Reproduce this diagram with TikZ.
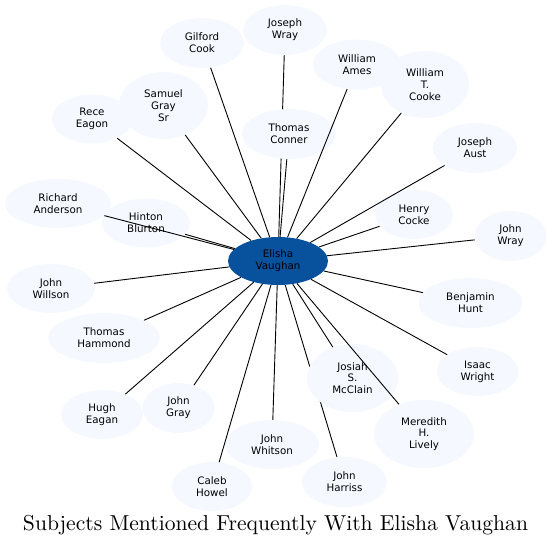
\documentclass[tikz,border=0pt]{standalone}
\usepackage{fontspec}
\newfontfamily\nodefont{DejaVu Sans}
\newfontfamily\titlefont{lmroman10-regular}[Extension=.otf]
\usetikzlibrary{shapes.geometric,backgrounds}
\definecolor{leaf}{HTML}{F5F9FF}
\definecolor{hub}{HTML}{08519C}
\tikzset{
  person/.style={ellipse, fill=leaf, draw=none, inner sep=0pt, align=center,
    font=\nodefont\fontsize{10.3}{11.7}\selectfont, text=black},
  hubnode/.style={person, fill=hub},
  link/.style={draw=black, line width=0.9pt},
}
\begin{document}
\begin{tikzpicture}[x=1pt,y=1pt]
\useasboundingbox (0,0) rectangle (552,-547);
\node[hubnode, minimum width=100pt, minimum height=48pt] (ev) at (278,-261) {Elisha\\Vaughan};
\node[person, minimum width=84pt, minimum height=50pt] (jwray) at (285,-30) {Joseph\\Wray};
\node[person, minimum width=84pt, minimum height=50pt] (gcook) at (202,-43) {Gilford\\Cook};
\node[person, minimum width=88pt, minimum height=50pt] (wames) at (357,-64.5) {William\\Ames};
\node[person, minimum width=88pt, minimum height=67pt] (wtcooke) at (425,-84.5) {William\\T.\\Cooke};
\node[person, minimum width=89pt, minimum height=67pt] (sgray) at (163.5,-105.5) {Samuel\\Gray\\Sr};
\node[person, minimum width=80pt, minimum height=49pt] (reagon) at (92,-119) {Rece\\Eagon};
\node[person, minimum width=94pt, minimum height=50pt] (tconner) at (289,-134) {Thomas\\Conner};
\node[person, minimum width=84pt, minimum height=50pt] (jaust) at (475,-148) {Joseph\\Aust};
\node[person, minimum width=106pt, minimum height=49pt] (randerson) at (58,-203.5) {Richard\\Anderson};
\node[person, minimum width=78pt, minimum height=49pt] (hcocke) at (414,-214.5) {Henry\\Cocke};
\node[person, minimum width=88pt, minimum height=49pt] (hblurton) at (146,-223) {Hinton\\Blurton};
\node[person, minimum width=72pt, minimum height=50pt] (johnwray) at (510.5,-236) {John\\Wray};
\node[person, minimum width=88pt, minimum height=49pt] (jwillson) at (51,-288.5) {John\\Willson};
\node[person, minimum width=104pt, minimum height=50pt] (bhunt) at (470.5,-303) {Benjamin\\Hunt};
\node[person, minimum width=112pt, minimum height=50pt] (thammond) at (104,-338) {Thomas\\Hammond};
\node[person, minimum width=82pt, minimum height=49pt] (iwright) at (477.5,-371.5) {Isaac\\Wright};
\node[person, minimum width=91pt, minimum height=68pt] (jmcclain) at (352.5,-378) {Josiah\\S.\\McClain};
\node[person, minimum width=72pt, minimum height=50pt] (jgray) at (178.5,-408) {John\\Gray};
\node[person, minimum width=82pt, minimum height=49pt] (heagan) at (102,-414.5) {Hugh\\Eagan};
\node[person, minimum width=100pt, minimum height=68pt] (mlively) at (424,-434) {Meredith\\H.\\Lively};
\node[person, minimum width=94pt, minimum height=49pt] (jwhitson) at (272,-444.5) {John\\Whitson};
\node[person, minimum width=85pt, minimum height=50pt] (jharriss) at (344.5,-482) {John\\Harriss};
\node[person, minimum width=80pt, minimum height=49pt] (chowel) at (212,-486.5) {Caleb\\Howel};
\begin{pgfonlayer}{background}
\draw[link] (jwray) -- (ev);
\draw[link] (jharriss) -- (ev);
\end{pgfonlayer}
\foreach \n in {gcook,wames,wtcooke,sgray,reagon,tconner,jaust,randerson,hcocke,hblurton,johnwray,jwillson,bhunt,thammond,iwright,jmcclain,jgray,heagan,mlively,jwhitson,chowel}
  \draw[link] (\n) -- (ev);
\node[inner sep=0pt] (title) at (275.5,-525) {\titlefont\fontsize{21.6}{24}\selectfont Subjects Mentioned Frequently With Elisha Vaughan};
\end{tikzpicture}
\end{document}
